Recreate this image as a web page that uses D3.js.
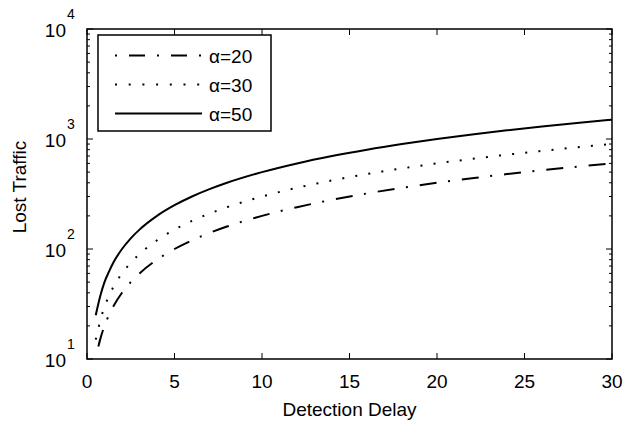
<!DOCTYPE html>
<html>
<head>
<meta charset="utf-8">
<script src="https://cdn.jsdelivr.net/npm/d3@7"></script>
<style>
  body { margin: 0; background: #fff; }
  svg { font-family: "Liberation Sans", Arial, Helvetica, sans-serif; }
</style>
</head>
<body>
<div id="chart"></div>
<script>
// data
var delay = [0.5, 0.75, 1, 1.25, 1.5, 2, 2.5, 3, 4, 5, 6, 7, 8, 10, 12, 14, 16, 18, 20, 22, 24, 26, 28, 30];
var delay20 = [0.65, 0.75, 1, 1.25, 1.5, 2, 2.5, 3, 4, 5, 6, 7, 8, 10, 12, 14, 16, 18, 20, 22, 24, 26, 28, 30];
var alpha20 = [13, 15, 20, 25, 30, 40, 50, 60, 80, 100, 120, 140, 160, 200, 240, 280, 320, 360, 400, 440, 480, 520, 560, 600];
var alpha30 = [15, 22, 30, 37, 45, 60, 75, 90, 120, 150, 180, 210, 240, 300, 360, 420, 480, 540, 600, 660, 720, 780, 840, 900];
var alpha50 = [25, 37, 50, 62, 75, 100, 125, 150, 200, 250, 300, 350, 400, 500, 600, 700, 800, 900, 1000, 1100, 1200, 1300, 1400, 1500];
var seriesNames = ["\u03b1=20", "\u03b1=30", "\u03b1=50"];
var xTicks = [0, 5, 10, 15, 20, 25, 30];
var yExponents = [1, 2, 3, 4];

var svgWidth = 625;
var svgHeight = 424;

var margin = {
    top: 29,
    right: 13,
    bottom: 65,
    left: 87
};

var width = svgWidth - margin.left - margin.right;
var height = svgHeight - margin.top - margin.bottom;

var svg = d3.select("#chart")
    .append("svg")
    .attr("width", svgWidth)
    .attr("height", svgHeight);

var chartGroup = svg.append("g")
    .attr("transform", `translate(${margin.left}, ${margin.top})`);

var xScale = d3.scaleLinear().domain([0, 30]).range([0, width]);
var yScale = d3.scaleLog().domain([10, 10000]).range([height, 0]);

// series styles
var styles = [
    { dash: "17,11.5,2,12", width: 2 },
    { dash: "2,11.2", width: 2 },
    { dash: null, width: 2 }
];
var legendDash = ["2,12,16,12", "2,11.7", null];

var series = [
    { xs: delay20, ys: alpha20 },
    { xs: delay, ys: alpha30 },
    { xs: delay, ys: alpha50 }
];

var line = d3.line()
    .x(d => xScale(d[0]))
    .y(d => yScale(d[1]))
    .curve(d3.curveMonotoneX);

chartGroup.append("clipPath").attr("id", "clip")
    .append("rect").attr("width", width).attr("height", height);

series.forEach(function(s, i) {
    var pts = s.xs.map((x, j) => [x, s.ys[j]]);
    chartGroup.append("path")
        .datum(pts)
        .attr("clip-path", "url(#clip)")
        .attr("fill", "none")
        .attr("stroke", "#000")
        .attr("stroke-width", styles[i].width)
        .attr("stroke-dasharray", styles[i].dash)
        .attr("d", line);
});

// axes (ticks pointing inward, mirrored on top/right)
var tickColor = "#000";
function drawX(g, y, dir) {
    g.selectAll("line").data(xTicks).enter().append("line")
        .attr("x1", d => xScale(d)).attr("x2", d => xScale(d))
        .attr("y1", y).attr("y2", y + dir * 6)
        .attr("stroke", tickColor).attr("stroke-width", 1);
}
drawX(chartGroup.append("g"), height, -1);
drawX(chartGroup.append("g"), 0, 1);

var minorVals = [];
yExponents.forEach(function(e) {
    if (e < 4) {
        for (var k = 2; k <= 9; k++) minorVals.push(k * Math.pow(10, e));
    }
});
var majorVals = yExponents.map(e => Math.pow(10, e));

function drawY(g, x, dir) {
    g.selectAll(".major").data(majorVals).enter().append("line")
        .attr("y1", d => yScale(d)).attr("y2", d => yScale(d))
        .attr("x1", x).attr("x2", x + dir * 6)
        .attr("stroke", tickColor).attr("stroke-width", 1);
    g.selectAll(".minor").data(minorVals).enter().append("line")
        .attr("y1", d => yScale(d)).attr("y2", d => yScale(d))
        .attr("x1", x).attr("x2", x + dir * 3)
        .attr("stroke", tickColor).attr("stroke-width", 1);
}
drawY(chartGroup.append("g"), 0, 1);
drawY(chartGroup.append("g"), width, -1);

// frame
chartGroup.append("rect")
    .attr("width", width).attr("height", height)
    .attr("fill", "none").attr("stroke", "#000").attr("stroke-width", 1.5);

// x tick labels
chartGroup.selectAll(".xlab").data(xTicks).enter().append("text")
    .attr("x", d => xScale(d))
    .attr("y", height + 29)
    .attr("text-anchor", "middle")
    .attr("font-size", "19px")
    .text(d => d);

// y tick labels: 10 with superscript exponent
var ylab = chartGroup.selectAll(".ylab").data(yExponents).enter().append("g");
ylab.append("text")
    .attr("x", -21)
    .attr("y", d => yScale(Math.pow(10, d)) + 8)
    .attr("text-anchor", "end")
    .attr("font-size", "19px")
    .text("10");
ylab.append("text")
    .attr("x", -20)
    .attr("y", d => yScale(Math.pow(10, d)) - 10)
    .attr("font-size", "14px")
    .text(d => d);

// axis titles
chartGroup.append("text")
    .attr("x", width / 2)
    .attr("y", height + 57)
    .attr("text-anchor", "middle")
    .attr("font-size", "19px")
    .text("Detection Delay");

chartGroup.append("text")
    .attr("transform", "rotate(-90)")
    .attr("x", -(187 - margin.top))
    .attr("y", -61)
    .attr("text-anchor", "middle")
    .attr("font-size", "19px")
    .text("Lost Traffic");

// legend
var legend = svg.append("g").attr("transform", "translate(98, 35)");
legend.append("rect")
    .attr("width", 173).attr("height", 96)
    .attr("fill", "#fff").attr("stroke", "#000").attr("stroke-width", 1.5);

seriesNames.forEach(function(name, i) {
    var y = 20.5 + i * 29;
    legend.append("line")
        .attr("x1", 17).attr("x2", 104)
        .attr("y1", y).attr("y2", y)
        .attr("stroke", "#000")
        .attr("stroke-width", 2)
        .attr("stroke-dasharray", legendDash[i]);
    legend.append("text")
        .attr("x", 111)
        .attr("y", y + 7)
        .attr("font-size", "19px")
        .text(name);
});
</script>
</body>
</html>
